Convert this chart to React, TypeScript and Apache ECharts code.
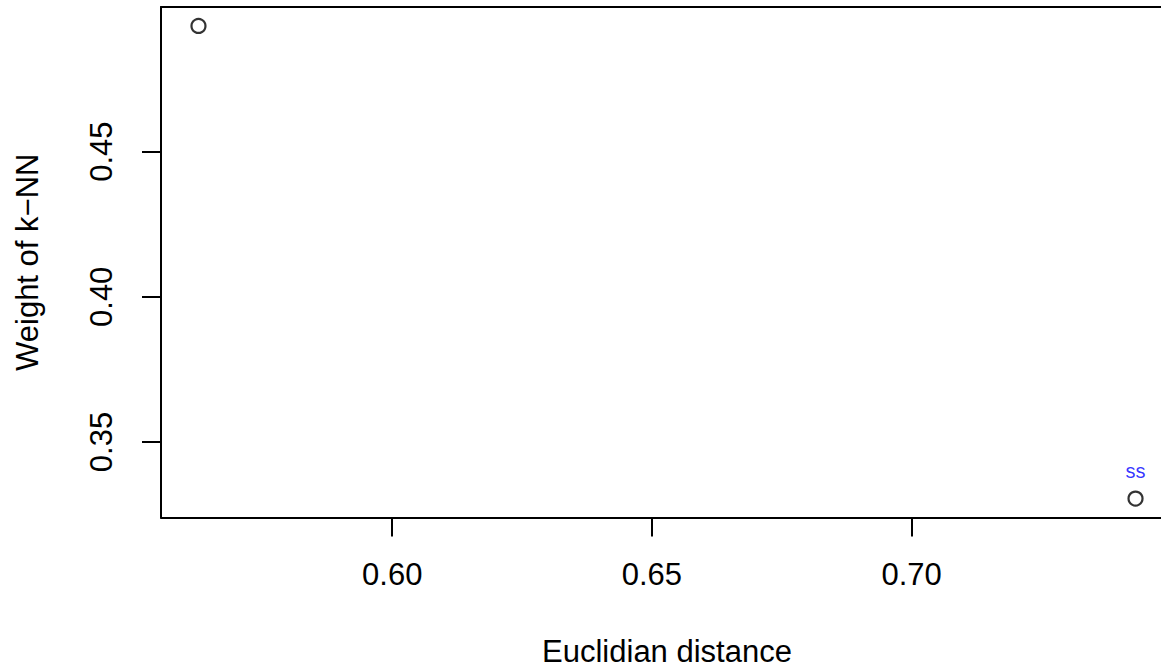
import React, { useEffect, useRef } from "react";
import * as echarts from "echarts";

const distances = [0.5627, 0.7431];
const weights = [0.4933, 0.3305];
const pointLabels = ["", "ss"];
const xTicks = [0.6, 0.65, 0.7];
const yTicks = [0.35, 0.4, 0.45];
const xTitle = "Euclidian distance";
const yTitle = "Weight of k\u2212NN";

export default function App() {
  const ref = useRef<HTMLDivElement>(null);
  useEffect(() => {
    if (!ref.current) return;
    const chart = echarts.init(ref.current, null, { renderer: "svg" });
    const xr = Math.max(...distances) - Math.min(...distances);
    const yr = Math.max(...weights) - Math.min(...weights);
    const xMin = Math.min(...distances) - 0.04 * xr;
    const xMax = Math.max(...distances) + 0.04 * xr;
    const yMin = Math.min(...weights) - 0.04 * yr;
    const yMax = Math.max(...weights) + 0.04 * yr;
    const font = "'Liberation Sans', Arial, Helvetica, sans-serif";
    const fs = 31;
    const boxLine = { show: true, onZero: false, lineStyle: { color: "#000", width: 2 } };
    chart.setOption({
      animation: false,
      backgroundColor: "#ffffff",
      grid: {
        left: 161,
        top: 7,
        width: 1012,
        height: 510.5,
        outerBoundsMode: "none",
        containLabel: false,
        show: false,
      },
      xAxis: [
        {
          type: "value",
          min: xMin,
          max: xMax,
          name: xTitle,
          nameLocation: "middle",
          nameGap: 118.5,
          nameTextStyle: { fontFamily: font, fontSize: fs, lineHeight: 30, color: "#000" },
          axisLine: boxLine,
          splitLine: { show: false },
          axisTick: {
            show: true,
            length: 19,
            customValues: xTicks,
            lineStyle: { color: "#000", width: 2 },
          },
          axisLabel: {
            customValues: xTicks,
            margin: 41,
            fontFamily: font,
            fontSize: fs,
            color: "#000",
            formatter: (v: number) => v.toFixed(2),
          },
        },
        {
          type: "value",
          position: "top",
          min: xMin,
          max: xMax,
          axisLine: boxLine,
          splitLine: { show: false },
          axisTick: { show: false },
          axisLabel: { show: false },
        },
      ],
      yAxis: {
        type: "value",
        min: yMin,
        max: yMax,
        name: yTitle,
        nameLocation: "middle",
        nameRotate: 90,
        nameGap: 118,
        nameTextStyle: { fontFamily: font, fontSize: fs, color: "#000" },
        axisLine: boxLine,
        splitLine: { show: false },
        axisTick: {
          show: true,
          length: 19,
          customValues: yTicks,
          lineStyle: { color: "#000", width: 2 },
        },
        axisLabel: {
          customValues: yTicks,
          rotate: 90,
          margin: 44,
          fontFamily: font,
          fontSize: fs,
          color: "#000",
          formatter: (v: number) => v.toFixed(2),
        },
      },
      series: [
        {
          type: "scatter",
          xAxisIndex: 0,
          symbol: "circle",
          symbolSize: 14,
          itemStyle: { color: "rgba(0,0,0,0)", borderColor: "#000", borderWidth: 2.2 },
          data: distances.map((d, i) => ({
            value: [d, weights[i]],
            label: {
              show: pointLabels[i] !== "",
              formatter: pointLabels[i],
              position: "top",
              distance: 9,
              color: "#0000ff",
              fontFamily: font,
              fontSize: 20,
            },
          })),
        },
      ],
    });
    return () => chart.dispose();
  }, []);
  return (
    <div
      ref={ref}
      style={{ position: "absolute", left: 0, top: 0, width: 1161, height: 668, background: "#fff" }}
    />
  );
}
